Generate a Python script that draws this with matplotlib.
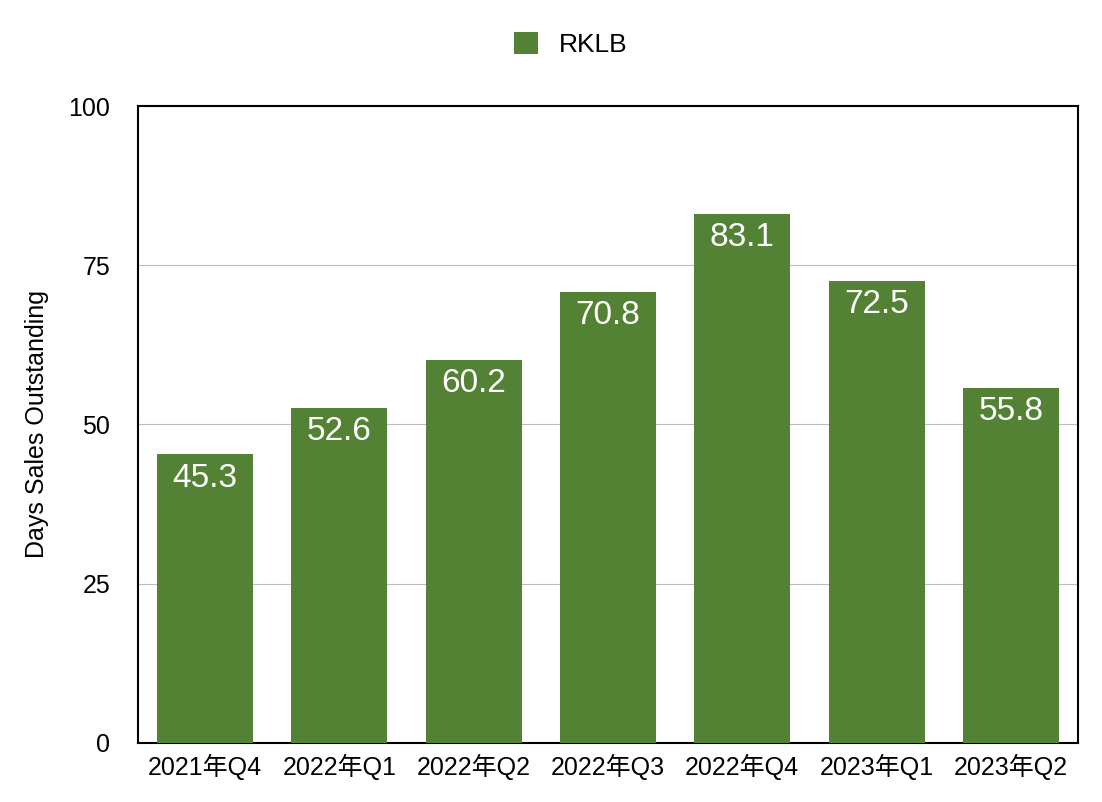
import matplotlib.pyplot as plt

plt.rcParams['font.family'] = ['Liberation Sans', 'Noto Sans CJK JP', 'DejaVu Sans']

quarters = ['2021年Q4', '2022年Q1', '2022年Q2', '2022年Q3', '2022年Q4', '2023年Q1', '2023年Q2']
dso = [45.3, 52.6, 60.2, 70.8, 83.1, 72.5, 55.8]

fig = plt.figure(figsize=(11.02, 8.02), dpi=100)
ax = fig.add_axes([0.1252, 0.0736, 0.853, 0.7942])

bars = ax.bar(range(len(quarters)), dso, width=0.715, color='#548235', label='RKLB', zorder=3)
for i, v in enumerate(dso):
    ax.text(i, v - 1.3, f'{v:.1f}', ha='center', va='top', color='white', fontsize=24, zorder=4)

ax.set_xlim(-0.5, len(quarters) - 0.5)
ax.set_ylim(0, 100)
ax.set_yticks([0, 25, 50, 75, 100])
ax.set_xticks(range(len(quarters)))
ax.set_xticklabels(quarters)
ax.tick_params(axis='x', labelsize=18, length=0, pad=8)
ax.tick_params(axis='y', labelsize=18, length=0, pad=20)
ax.yaxis.grid(True, color='#bbbbbb', linewidth=0.8, zorder=0)
for s in ax.spines.values():
    s.set_linewidth(1.5)
ax.set_ylabel('Days Sales Outstanding', fontsize=18, labelpad=14)

fig.legend(handles=[bars], labels=['RKLB'], loc='upper center', bbox_to_anchor=(0.518, 0.99),
           frameon=False, fontsize=19, handlelength=0.9, handleheight=0.9, handletextpad=0.8)

fig.savefig('out.png', dpi=100)
